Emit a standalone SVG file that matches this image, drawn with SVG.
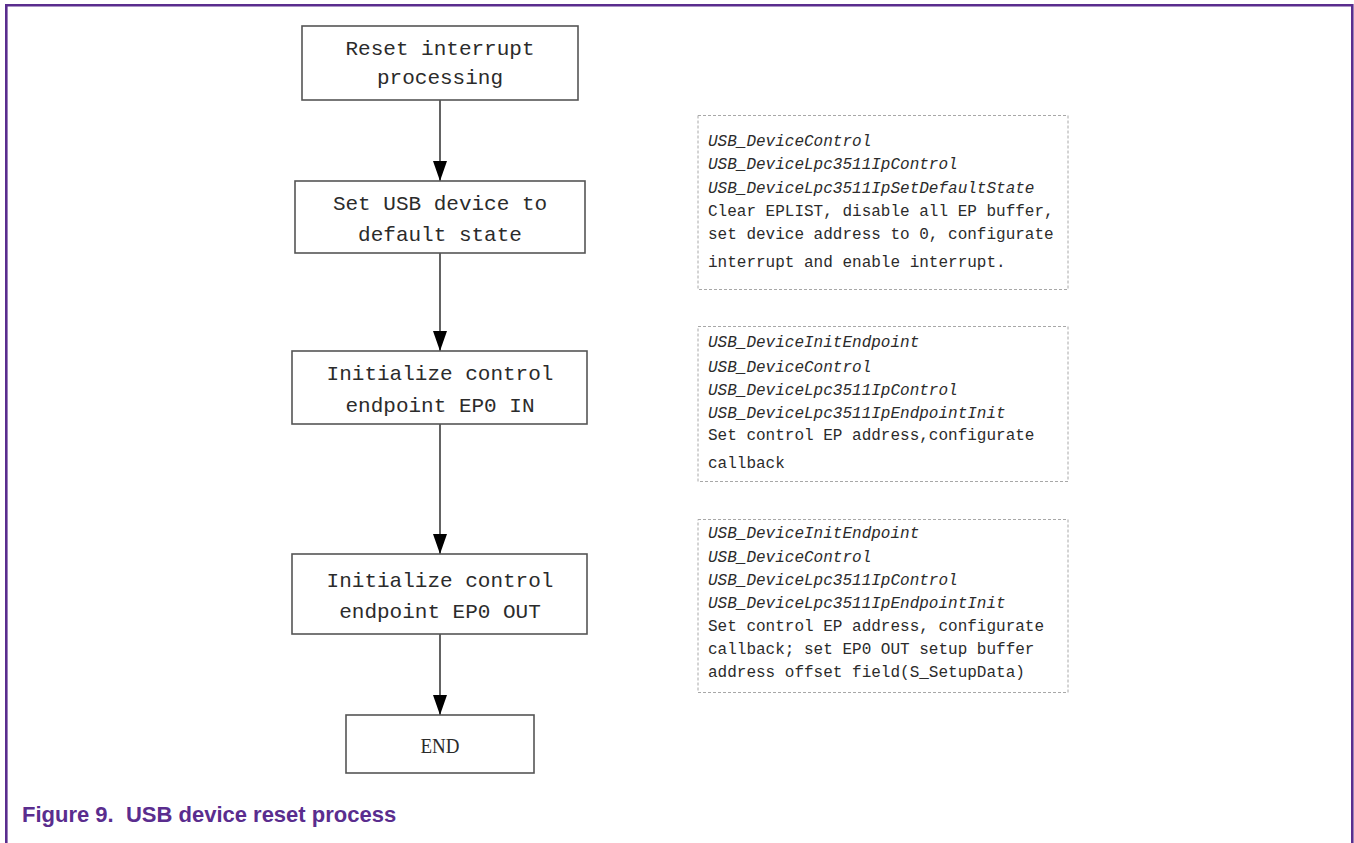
<svg xmlns="http://www.w3.org/2000/svg" width="1354" height="843" viewBox="0 0 1354 843">
  <style>
    .frame { fill: none; stroke: #5a2d8e; stroke-width: 2.6; }
    .step { fill: #ffffff; stroke: #555555; stroke-width: 1.6; }
    .note { fill: #ffffff; stroke: #a8a8a8; stroke-width: 1; stroke-dasharray: 3 2; }
    .label { font-family: "Liberation Mono", "DejaVu Sans Mono", monospace; font-size: 21px; fill: #2b2b2b; text-anchor: middle; }
    .end { font-family: "Liberation Serif", "Times New Roman", serif; font-size: 22px; fill: #2b2b2b; text-anchor: middle; }
    .fn { font-family: "Liberation Mono", "DejaVu Sans Mono", monospace; font-size: 16px; font-style: italic; fill: #2b2b2b; }
    .txt { font-family: "Liberation Mono", "DejaVu Sans Mono", monospace; font-size: 16px; fill: #2b2b2b; }
    .wire { stroke: #222222; stroke-width: 1.4; fill: none; marker-end: url(#arrow); }
    .caption { font-family: "Liberation Sans", Arial, sans-serif; font-size: 22px; font-weight: bold; fill: #5a2d8e; }
  </style>
  <defs>
    <!-- filled triangular head, tip at the end of the line -->
    <marker id="arrow" markerWidth="20" markerHeight="14" refX="20" refY="7" orient="auto" markerUnits="userSpaceOnUse" viewBox="0 0 20 14">
      <path d="M0,0 L20,7 L0,14 Z" fill="#000000"/>
    </marker>
  </defs>

  <rect x="0" y="0" width="1354" height="843" fill="#ffffff"/>
  <!-- figure frame -->
  <path class="frame" d="M6.3,843 V5.3 H1352.3 V843"/>

  <!-- connectors -->
  <g id="connectors">
    <line class="wire" x1="440" y1="100" x2="440" y2="181"/>
    <line class="wire" x1="440" y1="253" x2="440" y2="351"/>
    <line class="wire" x1="440" y1="424" x2="440" y2="554"/>
    <line class="wire" x1="440" y1="634" x2="440" y2="715"/>
  </g>

  <!-- flow steps -->
  <g id="reset">
    <rect class="step" x="302" y="26" width="276" height="74"/>
    <text class="label" x="440" y="55">Reset interrupt</text>
    <text class="label" x="440" y="84">processing</text>
  </g>
  <g id="default-state">
    <rect class="step" x="295" y="181" width="290" height="72"/>
    <text class="label" x="440" y="210">Set USB device to</text>
    <text class="label" x="440" y="241">default state</text>
  </g>
  <g id="ep0-in">
    <rect class="step" x="292" y="351" width="295" height="73"/>
    <text class="label" x="440" y="380">Initialize control</text>
    <text class="label" x="440" y="412">endpoint EP0 IN</text>
  </g>
  <g id="ep0-out">
    <rect class="step" x="292" y="554" width="295" height="80"/>
    <text class="label" x="440" y="587">Initialize control</text>
    <text class="label" x="440" y="618">endpoint EP0 OUT</text>
  </g>
  <g id="end">
    <rect class="step" x="346" y="715" width="188" height="58"/>
    <text class="end" x="440" y="753" textLength="39" lengthAdjust="spacingAndGlyphs">END</text>
  </g>

  <!-- annotation notes -->
  <g id="note-default-state">
    <rect class="note" x="698" y="115.5" width="370" height="174"/>
    <text class="fn" x="708" y="146">USB_DeviceControl</text>
    <text class="fn" x="708" y="169">USB_DeviceLpc3511IpControl</text>
    <text class="fn" x="708" y="193">USB_DeviceLpc3511IpSetDefaultState</text>
    <text class="txt" x="708" y="216">Clear EPLIST, disable all EP buffer,</text>
    <text class="txt" x="708" y="239">set device address to 0, configurate</text>
    <text class="txt" x="708" y="267">interrupt and enable interrupt.</text>
  </g>
  <g id="note-ep0-in">
    <rect class="note" x="698" y="326.5" width="370" height="155"/>
    <text class="fn" x="708" y="347">USB_DeviceInitEndpoint</text>
    <text class="fn" x="708" y="372">USB_DeviceControl</text>
    <text class="fn" x="708" y="395">USB_DeviceLpc3511IpControl</text>
    <text class="fn" x="708" y="418">USB_DeviceLpc3511IpEndpointInit</text>
    <text class="txt" x="708" y="440">Set control EP address,configurate</text>
    <text class="txt" x="708" y="468">callback</text>
  </g>
  <g id="note-ep0-out">
    <rect class="note" x="698" y="519.5" width="370" height="173"/>
    <text class="fn" x="708" y="538">USB_DeviceInitEndpoint</text>
    <text class="fn" x="708" y="562">USB_DeviceControl</text>
    <text class="fn" x="708" y="585">USB_DeviceLpc3511IpControl</text>
    <text class="fn" x="708" y="608">USB_DeviceLpc3511IpEndpointInit</text>
    <text class="txt" x="708" y="631">Set control EP address, configurate</text>
    <text class="txt" x="708" y="654">callback; set EP0 OUT setup buffer</text>
    <text class="txt" x="708" y="677">address offset field(S_SetupData)</text>
  </g>

  <text class="caption" x="22" y="822" xml:space="preserve">Figure 9.  USB device reset process</text>
</svg>
